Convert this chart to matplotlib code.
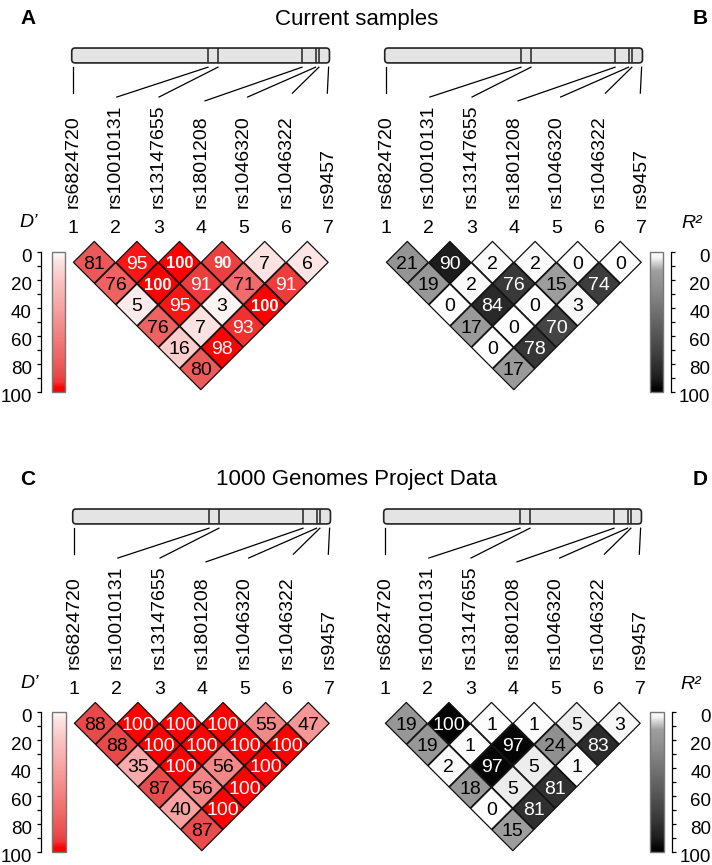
import numpy as np
import matplotlib
matplotlib.use('Agg')
import matplotlib.pyplot as plt
from matplotlib.collections import PolyCollection
from matplotlib.colors import LinearSegmentedColormap, Normalize
from matplotlib.patches import FancyBboxPatch, Rectangle
from matplotlib import font_manager as fm
import matplotlib.transforms as mtransforms

# ---------------- data ----------------
snps = ['rs6824720', 'rs10010131', 'rs13147655', 'rs1801208',
        'rs1046320', 'rs1046322', 'rs9457']
snp_numbers = ['1', '2', '3', '4', '5', '6', '7']
# relative position of each SNP along the gene bar (0 = first SNP, 1 = last)
gene_pos = [0.0, 0.528, 0.567, 0.896, 0.949, 0.962, 1.0]

# pairwise LD, listed by distance between markers (row d: pairs (i, i+d))
current_dprime = [[81, 95, 100, 90, 7, 6],
                  [76, 100, 91, 71, 91],
                  [5, 95, 3, 100],
                  [76, 7, 93],
                  [16, 98],
                  [80]]
current_r2 = [[21, 90, 2, 2, 0, 0],
              [19, 2, 76, 15, 74],
              [0, 84, 0, 3],
              [17, 0, 70],
              [0, 78],
              [17]]
kg_dprime = [[88, 100, 100, 100, 55, 47],
             [88, 100, 100, 100, 100],
             [35, 100, 56, 100],
             [87, 56, 100],
             [40, 100],
             [87]]
kg_r2 = [[19, 100, 1, 1, 5, 3],
         [19, 1, 97, 24, 83],
         [2, 97, 5, 1],
         [18, 5, 81],
         [0, 81],
         [15]]

cbar_major = [0, 20, 40, 60, 80, 100]
cbar_minor = [10, 30, 50, 70, 90]
titles = ['Current samples', '1000 Genomes Project Data']
letters = ['A', 'B', 'C', 'D']

# cells printed in bold in panel A: (distance, index)
bold_cells_A = [(1, 2), (1, 3), (2, 1), (3, 3)]

# ---------------- styling / layout ----------------
W, H, DPI = 712, 865, 100
U = 42.6  # pixels per marker spacing

plt.rcParams['font.family'] = ['Liberation Sans', 'DejaVu Sans']


def has_font(name):
    try:
        fm.findfont(fm.FontProperties(family=name), fallback_to_default=False)
        return True
    except Exception:
        return False


NARROW = has_font('Liberation Sans Narrow')

red_cmap = LinearSegmentedColormap.from_list('ldred', [
    (0.00, '#ffffff'), (0.06, '#fde4e4'), (0.20, '#fbc4c4'),
    (0.40, '#f8a2a2'), (0.56, '#f38686'), (0.75, '#ef6464'),
    (0.88, '#e94a4a'), (0.93, '#f23434'), (0.97, '#ff0000'),
    (1.00, '#ff0000')])
gray_cmap = LinearSegmentedColormap.from_list('ldgray', [
    (0.00, '#ffffff'), (0.04, '#f4f4f4'), (0.13, '#a0a0a0'),
    (0.25, '#8e8e8e'), (0.70, '#444444'), (0.80, '#323232'),
    (0.90, '#1e1e1e'), (0.97, '#050505'), (1.00, '#000000')])
norm = Normalize(0, 100)

# connector line end offsets (layout only)
conn_start_y = 4.08
conn_end_y = [3.47, 3.38, 3.38, 3.29, 3.38, 3.47, 3.47]
conn_end_dx = [0.0, 0.03, 0.02, 0.10, 0.10, 0.15, -0.03]


def px_axes(left, top, width, height):
    return fig.add_axes([left / W, 1 - (top + height) / H, width / W, height / H])


def panel_axes(x1_px, top_px):
    xmin, xmax, ymin, ymax = -0.7, 8.9, -3.8, 4.8
    left = x1_px + (xmin - 1) * U
    right = x1_px + (xmax - 1) * U
    top = top_px - ymax * U
    bottom = top_px - ymin * U
    ax = px_axes(left, top, right - left, bottom - top)
    ax.set_xlim(xmin, xmax)
    ax.set_ylim(ymin, ymax)
    ax.set_axis_off()
    return ax


def draw_panel(ax, rows, cmap, white_thr, label_side, bold=()):
    # gene bar
    gx = [1 + p * 6 for p in gene_pos]
    bar = FancyBboxPatch((gx[0] - 0.03, 4.18), gx[-1] - gx[0] + 0.05, 0.35,
                         boxstyle='round,pad=0,rounding_size=0.08',
                         fc='#e4e4e4', ec='#222222', lw=1.2, zorder=2)
    ax.add_patch(bar)
    for x in gx[1:-1]:
        ax.plot([x, x], [4.18, 4.53], color='#222222', lw=1.1, zorder=3,
                solid_capstyle='butt')
    # connectors
    for i, x in enumerate(gx):
        ax.plot([x, i + 1 + conn_end_dx[i]], [conn_start_y, conn_end_y[i]],
                color='black', lw=0.9)
    # labels
    for i, name in enumerate(snps):
        ax.text(i + 1, 0.775, name, rotation=90, ha='center', va='bottom',
                fontsize=14)
        ax.text(i + 1, 0.305, snp_numbers[i], ha='center', va='center',
                fontsize=14)
    # measure label
    if label_side == 'left':
        ax.text(-0.03, 0.44, 'D\u2019', style='italic', ha='center',
                va='center', fontsize=14)
    else:
        ax.text(8.18, 0.40, 'R\u00b2', style='italic', ha='center',
                va='center', fontsize=14)
    # cells
    h = 0.49
    verts, vals, centers = [], [], []
    for d, row in enumerate(rows, start=1):
        for k, v in enumerate(row):
            cx = k + 1 + d / 2
            cy = -d / 2
            verts.append([(cx - h, cy), (cx, cy + h), (cx + h, cy), (cx, cy - h)])
            vals.append(v)
            centers.append((cx, cy, d, k))
    pc = PolyCollection(verts, array=np.array(vals, dtype=float), cmap=cmap,
                        norm=norm, edgecolors='#111111', linewidths=0.9,
                        zorder=2)
    ax.add_collection(pc)
    for (cx, cy, d, k), v in zip(centers, vals):
        col = 'white' if v >= white_thr else 'black'
        if (d, k) in bold:
            if NARROW:
                ax.text(cx, cy, str(v), ha='center', va='center_baseline',
                        fontsize=14, color=col, weight='bold',
                        family=['Liberation Sans Narrow', 'Liberation Sans'],
                        zorder=4)
            else:
                ax.text(cx, cy, str(v), ha='center', va='center_baseline',
                        fontsize=12, color=col, weight='bold', zorder=4)
        else:
            ax.text(cx, cy, str(v), ha='center', va='center_baseline',
                    fontsize=14, color=col, zorder=4)


def draw_cbar(rect, cmap, side):
    cax = px_axes(*rect)
    grad = np.linspace(0, 100, 256)[:, None]
    cax.imshow(grad, cmap=cmap, norm=norm, aspect='auto',
               extent=(0, 1, 100, 0), origin='upper')
    cax.set_xlim(0, 1)
    cax.set_ylim(100, 0)
    cax.set_xticks([])
    for s in cax.spines.values():
        s.set_visible(False)
    cax.add_patch(Rectangle((0, 0), 1, 1, transform=cax.transAxes, fill=False,
                            ec='#777777', lw=1.0, clip_on=False))
    sp = cax.spines[side]
    sp.set_visible(True)
    sp.set_position(('outward', 6 if side == 'right' else 8))
    sp.set_linewidth(0.9)
    cax.set_yticks(cbar_major)
    cax.set_yticks(cbar_minor, minor=True)
    cax.set_yticklabels([str(t) for t in cbar_major])
    if side == 'left':
        cax.yaxis.set_ticks_position('left')
        cax.tick_params(axis='y', which='both', direction='out', length=3,
                        width=0.9, labelsize=13.5, pad=3.5)
    else:
        cax.yaxis.set_ticks_position('right')
        cax.tick_params(axis='y', which='both', direction='out', length=3,
                        width=0.9, labelsize=13.5, pad=25)
        for t in cax.get_yticklabels():
            t.set_horizontalalignment('right')
    off = mtransforms.ScaledTranslation(0, -3 / DPI, fig.dpi_scale_trans)
    for t in cax.get_yticklabels():
        t.set_transform(t.get_transform() + off)
    return cax


fig = plt.figure(figsize=(W / DPI, H / DPI), dpi=DPI)

axA = panel_axes(73, 241)
draw_panel(axA, current_dprime, red_cmap, 90, 'left', bold=bold_cells_A)
axB = panel_axes(386, 241)
draw_panel(axB, current_r2, gray_cmap, 50, 'right')
axC = panel_axes(74, 702)
draw_panel(axC, kg_dprime, red_cmap, 90, 'left')
axD = panel_axes(385, 702)
draw_panel(axD, kg_r2, gray_cmap, 50, 'right')

draw_cbar((52, 252, 13, 140), red_cmap, 'left')
draw_cbar((650, 252, 13, 140), gray_cmap, 'right')
draw_cbar((52, 712, 14, 140), red_cmap, 'left')
draw_cbar((650, 712, 14, 140), gray_cmap, 'right')

# titles and panel letters
for row, ty in enumerate([19, 480]):
    fig.text(357 / W, 1 - ty / H, titles[row], ha='center', va='center',
             fontsize=16)
    fig.text(28 / W, 1 - ty / H, letters[2 * row], ha='center', va='center',
             fontsize=15, weight='bold')
    fig.text(700 / W, 1 - ty / H, letters[2 * row + 1], ha='center',
             va='center', fontsize=15, weight='bold')

fig.savefig('out.png', dpi=DPI)
